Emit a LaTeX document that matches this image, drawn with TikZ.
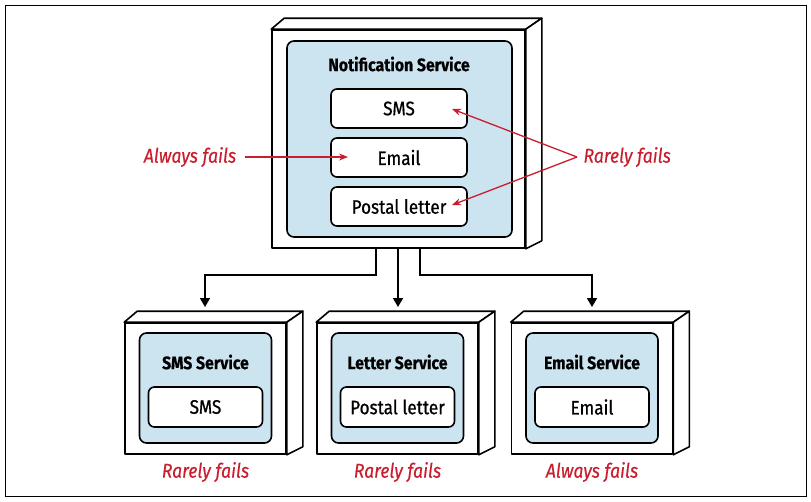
\documentclass[tikz,border=0pt]{standalone}
\usepackage{fontspec}
\setmainfont{Fira Sans}[FakeStretch=0.88, UprightFeatures={FakeBold=0.7},
  BoldFeatures={FakeBold=0.5}, ItalicFeatures={FakeBold=0.3}]
\usetikzlibrary{arrows.meta, positioning}
\definecolor{paneblue}{RGB}{204,227,240}
\definecolor{failred}{RGB}{200,30,45}
\newcommand{\boxside}[1]{%
  \draw[box] (#1.north west) -- ++(13,-11) -- ([shift={(16,-11)}]#1.north east)
    -- (#1.north east) -- cycle;
  \draw[box] (#1.north east) -- ++(16,-11) -- ([shift={(16,-8)}]#1.south east)
    -- (#1.south east) -- cycle;
}

\begin{document}
\begin{tikzpicture}[x=1pt,y=-1pt]
\tikzset{
  box/.style={draw=black, line width=1.6pt, fill=white, line join=round},
  pane/.style={draw=black, line width=1.6pt, fill=paneblue, rounded corners=7pt},
  item/.style={draw=black, line width=1.6pt, fill=white, rounded corners=6pt,
    minimum width=136pt, minimum height=39pt, font=\fontsize{19.5}{22}\selectfont},
  subitem/.style={item, minimum width=114pt, minimum height=40pt},
  title/.style={font=\bfseries\fontsize{18}{21}\selectfont},
  fails/.style={text=failred, font=\itshape\fontsize{20}{23}\selectfont},
  link/.style={line width=1.6pt, -{Triangle[length=9pt,width=10pt]}},
  failarrow/.style={failred, line width=1.3pt, -{Stealth[length=9pt,width=7pt]}}
}
\useasboundingbox (0,0) rectangle (811,501);
\draw[line width=1pt] (5,5) rectangle (806,496);

% notification service
\node[box, minimum width=253pt, minimum height=218pt] (main) at (398.5,139) {};
\boxside{main}
\node[pane, minimum width=225pt, minimum height=196pt] (mainpane) at (399.5,139) {};
\node[title] (maintitle) at (399,64) {Notification Service};
\node[item] (sms) at (399,108.5) {SMS};
\node[item] (email) at (399,157.5) {Email};
\node[item] (postal) at (399,206.5) {Postal letter};

% annotations
\node[fails] (always) at (190,157) {Always fails};
\node[fails, anchor=west] (rarely) at (580,157) {Rarely fails};
\coordinate (meet) at (577,157);
\coordinate (alwaystip) at (348,157);
\coordinate (smstip) at (452,109);
\coordinate (postaltip) at (452,205);
\draw[failarrow] ([xshift=5pt]always.east) -- (alwaystip);
\draw[failarrow] (meet) -- (smstip);
\draw[failarrow] (meet) -- (postaltip);

% backend services
\foreach \name/\x/\head/\inner/\fail in {smssrv/205.5/SMS Service/SMS/Rarely fails,
    lettersrv/397.5/Letter Service/Postal letter/Rarely fails,
    emailsrv/592/Email Service/Email/Always fails} {
  \node[box, minimum width=161pt, minimum height=131pt] (\name) at (\x,388.5) {};
  \boxside{\name}
  \node[pane, minimum width=132pt, minimum height=110pt] (\name pane) at (\x,388) {};
  \node[title] (\name title) at (\x,362) {\head};
  \node[subitem] (\name item) at (\x,407) {\inner};
  \node[fails] (\name fail) at (\x,472) {\fail};
}

% connectors
\coordinate (smsin) at (205,307);
\coordinate (letterin) at (398,307);
\coordinate (emailin) at (592,307);
\draw[link] (main.south -| 376,0) -- (376,275) -| (smsin);
\draw[link] (main.south -| letterin) -- (letterin);
\draw[link] (main.south -| 420,0) -- (420,275) -| (emailin);
\end{tikzpicture}
\end{document}
